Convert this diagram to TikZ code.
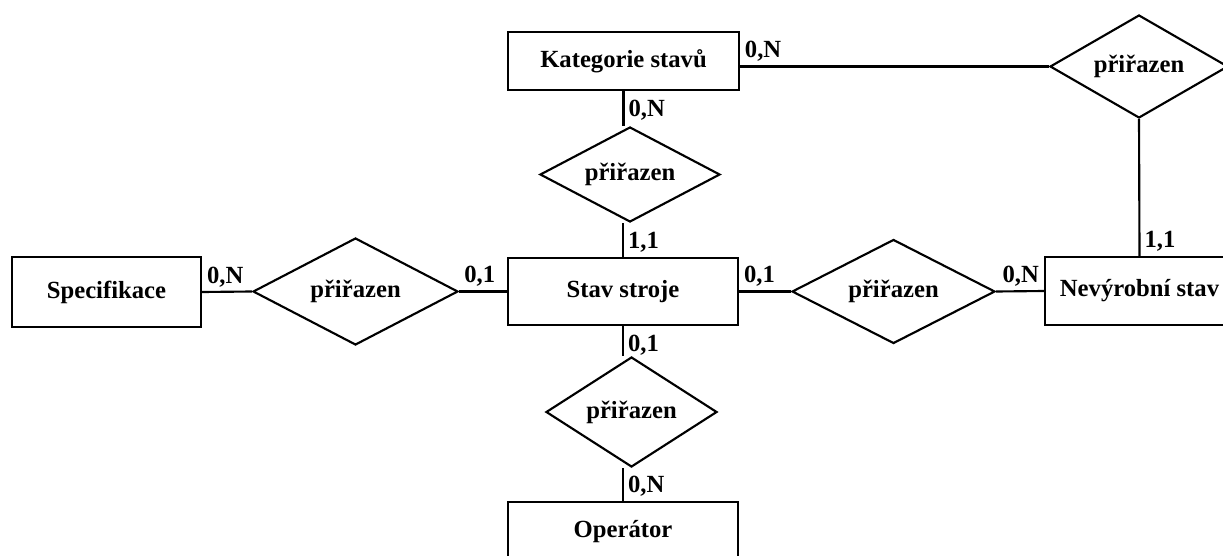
\documentclass[tikz,border=0pt]{standalone}
\usepackage{fontspec}
\setmainfont{Liberation Serif}
\usetikzlibrary{shapes.geometric}
\tikzset{
	erfont/.style={font=\fontsize{18.5}{22}\selectfont\bfseries},
	entity/.style={draw, line width=1.6pt, fill=white, align=center,
		inner sep=2pt, erfont},
	relation/.style={draw, diamond, aspect=2, line width=1.6pt, fill=white,
		inner sep=0pt, erfont},
	link/.style={line width=1.6pt},
	card/.style={erfont, inner sep=3pt},
}

\begin{document}
\begin{tikzpicture}[x=0.75pt, y=-0.75pt]
	\useasboundingbox (0,0) rectangle (1223,556);
	% entities
	\node[entity, minimum width=173pt, minimum height=43.5pt] (kat) at (623.5,61) {Kategorie stavů};
	\node[entity, minimum width=172.5pt, minimum height=50.25pt] (stav) at (623,291.5) {Stav stroje};
	\node[entity, minimum width=141.75pt, minimum height=52.5pt] (spec) at (106.5,292) {Specifikace};
	\node[entity, minimum width=141.75pt, minimum height=51pt] (nev) at (1139.5,291) {Nevýrobní stav};
	\node[entity, minimum width=172.5pt, minimum height=45pt] (oper) at (623,532) {Operátor};
	% relationships
	\node[relation, minimum width=135pt, minimum height=71.25pt] (d1) at (630,174.5) {přiřazen};
	\node[relation, minimum width=153.75pt, minimum height=80.25pt] (d2) at (355.5,291.5) {přiřazen};
	\node[relation, minimum width=152.25pt, minimum height=78pt] (d3) at (893.5,291.5) {přiřazen};
	\node[relation, minimum width=128.25pt, minimum height=82.5pt] (d4) at (631.5,412) {přiřazen};
	\node[relation, minimum width=133.5pt, minimum height=77.25pt] (dtr) at (1139,66.5) {přiřazen};
	% connectors with cardinalities
	\draw[link] (kat.east |- dtr.west) node[card, above right]{0,N} -- (dtr.west);
	\draw[link] (kat.south) node[card, below right, yshift=-3pt]{0,N} -- (kat.south |- d1.north);
	\draw[link] (stav.north) node[card, above right]{1,1} -- (stav.north |- d1.south);
	\draw[link] (stav.south) node[card, below right, yshift=-3pt]{0,1} -- (stav.south |- d4.north);
	\draw[link] (oper.north) node[card, above right]{0,N} -- (oper.north |- d4.south);
	\draw[link] (spec.east) node[card, above right]{0,N} -- (d2.west);
	\draw[link] (stav.west) node[card, above left, xshift=-5pt]{0,1} -- (d2.east);
	\draw[link] (stav.east) node[card, above right]{0,1} -- (d3.west);
	\draw[link] (nev.west) node[card, above left]{0,N} -- (d3.east);
	\draw[link] (nev.north) node[card, above right]{1,1} -- (dtr.south);
\end{tikzpicture}
\end{document}
